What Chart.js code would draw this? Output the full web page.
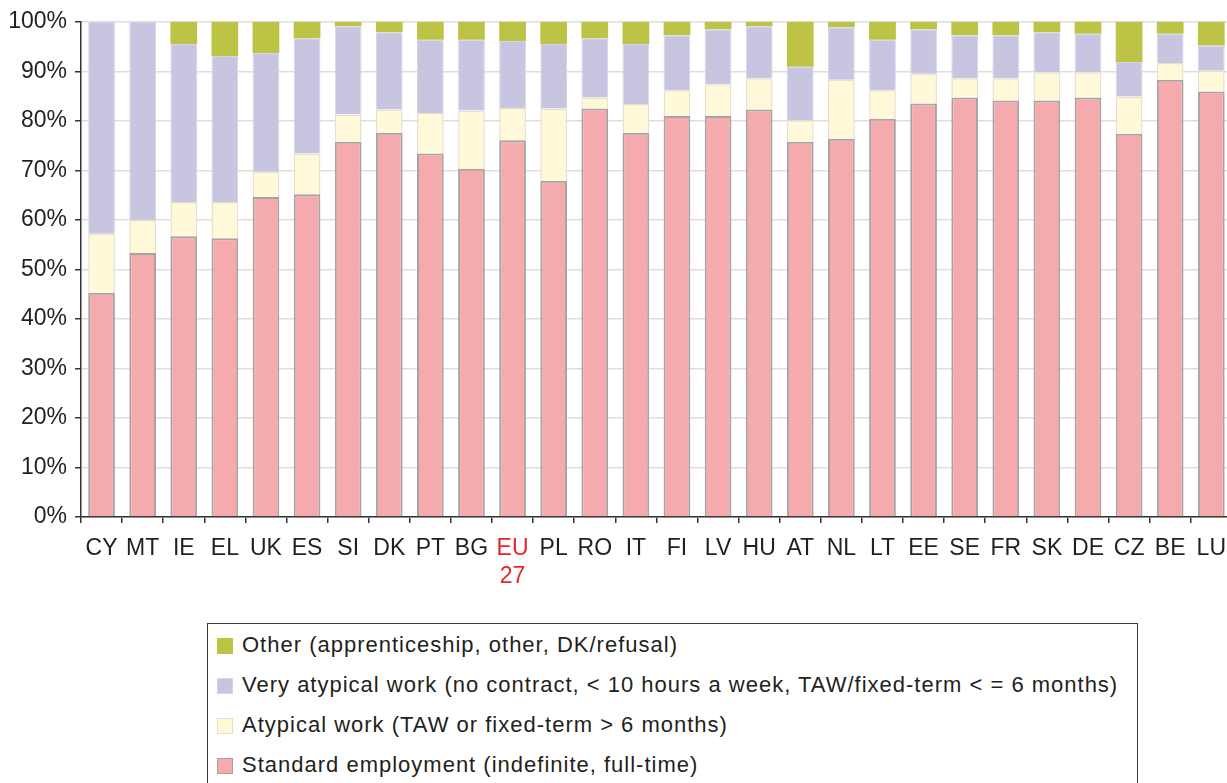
<!DOCTYPE html>
<html>
<head>
<meta charset="utf-8">
<script src="https://cdn.jsdelivr.net/npm/chart.js@4/dist/chart.umd.min.js"></script>
<style>
  html, body { margin: 0; padding: 0; background: #fff; overflow: hidden; width: 1227px; height: 783px; }
  #wrap { position: absolute; left: 0; top: 0; width: 1237px; height: 600px; }
  #legend { position: absolute; left: 207px; top: 623px; width: 931px; height: 200px;
            border: 1.5px solid #3a3a3a; box-sizing: border-box;
            font-family: "Liberation Sans", Arial, sans-serif; font-size: 22px; letter-spacing: 1px; color: #231f20; }
  .item { position: absolute; left: 9px; height: 24px; line-height: 24px; white-space: nowrap; }
  .sw { position: absolute; left: 0; top: 4px; width: 16px; height: 16px; box-sizing: border-box; }
  .tx { position: absolute; left: 25px; top: -1px; }
</style>
</head>
<body>
<div id="wrap"><canvas id="c" width="1237" height="600"></canvas></div>
<div id="legend"></div>
<script>
const categories = ["CY","MT","IE","EL","UK","ES","SI","DK","PT","BG",["EU","27"],"PL","RO","IT","FI","LV","HU","AT","NL","LT","EE","SE","FR","SK","DE","CZ","BE","LU"];
const standardEmployment = [45.3,53.3,56.7,56.3,64.6,65.2,75.8,77.6,73.4,70.3,76.1,67.9,82.5,77.6,81.0,81.0,82.3,75.8,76.4,80.4,83.5,84.7,84.1,84.1,84.7,77.4,88.3,85.9];
const atypicalWork = [11.9,6.7,6.9,7.3,5.1,8.2,5.5,4.7,8.2,11.8,6.5,14.6,2.2,5.8,5.2,6.4,6.3,4.3,11.9,5.8,6.0,3.9,4.5,5.7,5.1,7.5,3.4,4.2];
const veryAtypicalWork = [42.8,40.0,31.9,29.5,24.0,23.3,17.8,15.6,14.8,14.3,13.5,13.0,12.0,12.1,11.1,11.1,10.5,10.8,10.6,10.2,9.0,8.7,8.7,8.1,7.8,7.0,5.9,5.1];
const otherWork = [0,0,4.5,6.9,6.3,3.3,0.9,2.1,3.6,3.6,3.9,4.5,3.3,4.5,2.7,1.5,0.9,9.1,1.1,3.6,1.5,2.7,2.7,2.1,2.4,8.1,2.4,4.8];
const yTickLabels = ["0%","10%","20%","30%","40%","50%","60%","70%","80%","90%","100%"];
const seriesLabels = [
  "Standard employment (indefinite, full-time)",
  "Atypical work (TAW or fixed-term > 6 months)",
  "Very atypical work (no contract, < 10 hours a week, TAW/fixed-term < = 6 months)",
  "Other (apprenticeship, other, DK/refusal)"
];
const highlightIndex = 10;

const FONT = "'Liberation Sans', Arial, sans-serif";
const common = { stack: "s", barPercentage: 0.65, categoryPercentage: 1.0 };

const chart = new Chart(document.getElementById("c"), {
  type: "bar",
  data: {
    labels: categories,
    datasets: [
      Object.assign({ label: seriesLabels[0], data: standardEmployment, backgroundColor: "#f5aaad", borderColor: "#a9a2a2", borderWidth: 2 }, common),
      Object.assign({ label: seriesLabels[1], data: atypicalWork, backgroundColor: "#fff9d9", borderColor: "#e7e0cc", borderWidth: 1.5 }, common),
      Object.assign({ label: seriesLabels[2], data: veryAtypicalWork, backgroundColor: "#c8c5e1", borderColor: "#d6d3ea", borderWidth: 1 }, common),
      Object.assign({ label: seriesLabels[3], data: otherWork, backgroundColor: "#bdc345", borderColor: "#bdc345", borderWidth: 0 }, common)
    ]
  },
  options: {
    responsive: false,
    animation: false,
    layout: { padding: { top: 21, left: 0, right: 0, bottom: 0 } },
    plugins: { legend: { display: false }, tooltip: { enabled: false } },
    scales: {
      x: {
        stacked: true,
        offset: true,
        grid: { offset: true, drawOnChartArea: false, drawTicks: true, tickLength: 6, color: "#333", lineWidth: 1.5 },
        border: { display: true, color: "#333", width: 1.5 },
        ticks: {
          autoSkip: false, maxRotation: 0, padding: 11,
          font: { family: FONT, size: 23, lineHeight: 1.25 },
          color: (ctx) => ctx.index === highlightIndex ? "#e8262a" : "#231f20"
        },
        afterFit: (s) => { s.height = 83; }
      },
      y: {
        stacked: true, min: 0, max: 100,
        grid: { color: "#e2dddd", lineWidth: 1.5, tickLength: 6, tickColor: "#333" },
        border: { display: true, color: "#333", width: 1.5 },
        ticks: {
          stepSize: 10, padding: 8,
          font: { family: FONT, size: 23 }, color: "#231f20",
          callback: (v) => yTickLabels[Math.round(v / 10)]
        },
        afterFit: (s) => { s.width = 81; }
      }
    }
  }
});

// HTML legend built from the chart's datasets (reversed order, as in the reference)
const leg = document.getElementById("legend");
const ds = chart.data.datasets.slice().reverse();
ds.forEach((d, i) => {
  const it = document.createElement("div");
  it.className = "item";
  it.style.top = (10 + i * 40) + "px";
  const sw = document.createElement("span");
  sw.className = "sw";
  sw.style.background = d.backgroundColor;
  sw.style.border = "1.5px solid " + d.borderColor;
  const tx = document.createElement("span");
  tx.className = "tx";
  tx.textContent = d.label;
  it.appendChild(sw); it.appendChild(tx);
  leg.appendChild(it);
});
</script>
</body>
</html>
